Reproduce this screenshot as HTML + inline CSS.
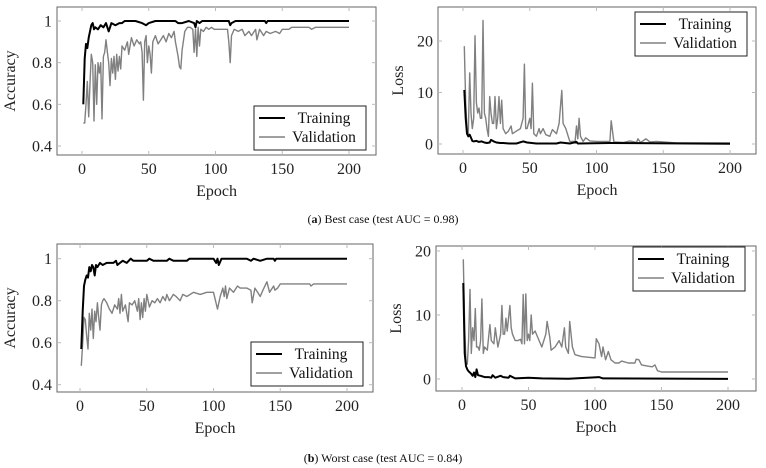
<!DOCTYPE html>
<html><head><meta charset="utf-8">
<style>
html,body{margin:0;padding:0;background:#fff;}
svg{display:block;font-family:"Liberation Serif",serif;}
</style></head>
<body>
<svg id="fig" width="766" height="468" viewBox="0 0 766 468"></svg>
<script>
// ---- data ----
const aTrainE=[1,2,3,4,5,6,7,8,9,10,12,14,16,18,20,22,25,28,30,32,35,40,45,48,50,55,60,70,72,75,80,84,85,86,88,90,100,110,111,112,115,130,137,138,139,150,200];
const aTrainV=[0.6,0.82,0.89,0.87,0.92,0.95,0.98,0.99,0.96,0.97,0.96,0.98,0.97,0.99,0.95,0.99,0.98,0.99,0.99,1,1,1,0.99,0.98,0.99,1,1,1,0.99,0.99,1,0.99,0.97,1,0.99,1,1,1,0.98,0.99,1,1,1,0.99,1,1,1];
const aValE=[1,2,3,4,5,6,7,8,9,10,11,12,13,14,15,16,17,18,19,20,21,22,23,24,25,26,27,28,29,30,32,34,35,37,39,41,43,44,45,46,47,48,49,50,51,52,53,55,57,59,61,63,65,67,69,70,72,73,74,75,77,79,81,83,84,85,86,87,88,89,91,93,95,97,99,105,109,110,111,112,114,117,120,122,125,127,130,131,133,136,138,141,145,148,150,155,157,170,172,175,200];
const aValV=[0.51,0.51,0.6,0.71,0.54,0.7,0.84,0.8,0.52,0.79,0.6,0.8,0.75,0.8,0.53,0.83,0.85,0.91,0.85,0.8,0.69,0.82,0.75,0.83,0.72,0.84,0.76,0.83,0.77,0.88,0.86,0.9,0.84,0.92,0.88,0.91,0.89,0.9,0.85,0.62,0.9,0.93,0.8,0.88,0.84,0.75,0.9,0.93,0.89,0.91,0.93,0.9,0.94,0.92,0.95,0.9,0.83,0.78,0.77,0.86,0.95,0.97,0.97,0.96,0.85,0.96,0.83,0.97,0.88,0.96,0.95,0.97,0.96,0.97,0.96,0.96,0.96,0.9,0.8,0.93,0.96,0.95,0.96,0.93,0.95,0.93,0.96,0.91,0.96,0.93,0.95,0.94,0.95,0.94,0.96,0.96,0.97,0.97,0.96,0.97,0.97];
const bTrainE=[1,2,3,4,5,6,7,8,10,12,14,16,18,20,21,23,25,28,30,35,40,45,48,55,70,73,80,85,86,110,200];
const bTrainV=[10.5,5,2,1.5,1.8,1.2,0.6,0.5,0.6,0.4,0.5,0.3,0.2,0.3,0.8,0.5,0.3,0.2,0.2,0.1,0.1,0.5,0.3,0.1,0.1,0.3,0.1,0.4,0.1,0.2,0.05];
const bValE=[1,2,3,4,5,6,7,8,9,10,11,12,13,14,15,16,17,18,19,20,21,22,23,24,25,26,27,28,29,30,32,34,36,37,40,43,45,46,47,48,50,51,52,53,55,57,58,60,62,65,67,70,72,74,75,77,80,84,85,86,87,88,90,92,95,100,110,111,113,120,125,130,131,133,137,140,145,150,160,200];
const bValV=[19,8,3,2,13.8,6,3,5,21,8,6,7,5,5,24,6,5,3,1.5,9.2,6,4,4,9.2,3,5,9.2,4,8.5,3,2,2.5,3.5,2,2.5,3,5,15.5,3,3,5,3,11.8,2,1.5,3,2,3,1.8,1.5,2.8,2,4,10.4,4,3,0.5,0.5,3.5,1,5,1.5,0.5,1.2,0.6,0.5,0.5,4.5,0.4,0.3,0.6,0.3,1,0.3,1,0.4,0.5,0.4,0.2,0.2];
const cTrainE=[1,2,3,4,5,6,7,8,9,10,11,12,13,15,17,20,25,27,28,30,32,35,38,40,50,52,55,65,67,70,80,82,85,100,102,103,104,106,110,125,128,130,135,140,145,146,147,200];
const cTrainV=[0.57,0.75,0.87,0.9,0.92,0.91,0.96,0.94,0.97,0.96,0.92,0.97,0.96,0.98,0.97,0.98,0.98,0.99,0.97,0.98,0.99,0.98,1,0.99,0.99,1,0.99,0.99,1,0.99,0.99,1,1,1,0.98,1,0.97,1,1,1,0.99,1,0.99,1,1,0.99,1,1];
const cValE=[1,2,3,4,5,6,7,8,9,10,11,12,13,14,15,16,17,18,20,22,24,26,28,29,30,31,32,34,36,37,39,41,43,44,45,46,47,48,49,50,52,54,56,58,60,62,64,65,67,70,72,75,77,80,85,90,95,100,103,105,107,108,109,110,112,115,118,120,125,128,129,131,133,135,137,140,142,145,146,148,150,172,173,175,200];
const cValV=[0.49,0.6,0.72,0.71,0.63,0.57,0.74,0.66,0.76,0.62,0.75,0.7,0.79,0.72,0.66,0.78,0.8,0.81,0.79,0.76,0.74,0.78,0.76,0.81,0.74,0.83,0.75,0.78,0.7,0.79,0.78,0.8,0.75,0.81,0.71,0.79,0.72,0.81,0.75,0.83,0.77,0.8,0.79,0.81,0.79,0.82,0.8,0.83,0.8,0.83,0.82,0.8,0.83,0.82,0.84,0.83,0.84,0.84,0.76,0.82,0.86,0.82,0.87,0.81,0.86,0.84,0.87,0.86,0.86,0.85,0.79,0.86,0.84,0.82,0.85,0.89,0.84,0.87,0.85,0.86,0.88,0.88,0.87,0.88,0.88];
const dTrainE=[1,2,3,4,5,6,7,8,9,10,11,12,14,17,20,22,23,25,29,31,35,36,40,50,60,80,103,106,200];
const dTrainV=[15,4,2,1.5,1.2,1,0.8,0.5,1,0.3,1.5,0.6,0.5,0.3,0.3,0.2,0.6,0.2,0.5,0.3,0.2,0.5,0.1,0.2,0.1,0.05,0.3,0.1,0.02];
const dValE=[1,2,3,4,5,6,7,8,9,10,11,12,13,14,15,16,17,19,21,22,24,25,27,29,30,31,32,33,34,36,37,38,40,42,44,45,46,47,48,49,50,51,52,53,55,58,60,63,64,66,67,70,73,75,77,78,80,81,83,85,90,100,101,103,105,106,108,110,112,115,118,120,125,130,131,133,135,140,143,145,147,150,200];
const dValV=[18.7,8,2.5,2.3,6,14,4,8,6,11,5,5,4.5,6,12.5,4,5,4.5,8.5,6,5.5,8,5,7,11.5,7,7,9.5,7.5,11.5,8,7,6,6,6.2,5.5,13.2,5.5,13.3,6,7,6,10,7,7.5,6,5,7,9,6.5,4.5,5,6,5,8,5,4,9,5,3.8,3.5,3.3,6.3,5.5,3.5,5,3,4.3,3,2.5,2.5,2.8,2.5,2.5,3.1,3,2.2,2,1.9,2.2,1.3,1.1,1.1];
const xTicks=[0,50,100,150,200];
const accTicks=[0.4,0.6,0.8,1];
const accTickLabels=["0.4","0.6","0.8","1"];
const lossTicks=[0,10,20];
const lossTickLabels=["0","10","20"];

const NS="http://www.w3.org/2000/svg";
const svg=document.getElementById('fig');
function mk(tag,attrs,parent){const e=document.createElementNS(NS,tag);for(const k in attrs)e.setAttribute(k,attrs[k]);(parent||svg).appendChild(e);return e;}

function panel(cfg){
  const g=mk('g',{});
  
  
  const sx=v=>cfg.x0+(v-0)*(cfg.x200-cfg.x0)/200;
  const sy=v=>cfg.yA+(v-cfg.vA)*(cfg.yB-cfg.yA)/(cfg.vB-cfg.vA);
  const box=mk('rect',{x:cfg.bx1,y:cfg.by1,width:cfg.bx2-cfg.bx1,height:cfg.by2-cfg.by1,fill:'none',stroke:'#666','stroke-width':1},g);
  
  xTicks.forEach(t=>{
    const x=sx(t);
    mk('line',{x1:x,x2:x,y1:cfg.by2,y2:cfg.by2-4,stroke:'#bbb'},g);
    mk('line',{x1:x,x2:x,y1:cfg.by1,y2:cfg.by1+4,stroke:'#bbb'},g);
    const tx=mk('text',{x:x,y:cfg.by2+19,'text-anchor':'middle','font-size':16,fill:'#222'},g);
    tx.textContent=t;
    
  });
  cfg.yt.forEach((t,i)=>{
    const y=sy(t);
    mk('line',{x1:cfg.bx1,x2:cfg.bx1+4,y1:y,y2:y,stroke:'#bbb'},g);
    mk('line',{x1:cfg.bx2,x2:cfg.bx2-4,y1:y,y2:y,stroke:'#bbb'},g);
    const tx=mk('text',{x:cfg.bx1-5,y:y+5.5,'text-anchor':'end','font-size':16,fill:'#222'},g);
    tx.textContent=cfg.ytl[i];
    
  });
  const xl=mk('text',{x:(cfg.bx1+cfg.bx2)/2,y:cfg.by2+41,'text-anchor':'middle','font-size':16,fill:'#222'},g);
  xl.textContent='Epoch';
  const yx=cfg.ylx, yy=(cfg.by1+cfg.by2)/2;
  const yl=mk('text',{x:yx,y:yy,'text-anchor':'middle','font-size':16,fill:'#222',transform:`rotate(-90 ${yx} ${yy})`},g);
  yl.textContent=cfg.ylabel;
  const path=(E,V)=>E.map((e,i)=>(i?'L':'M')+sx(e).toFixed(1)+','+sy(V[i]).toFixed(1)).join('');
  const pv=mk('path',{d:path(cfg.vE,cfg.vV),fill:'none',stroke:'#808080','stroke-width':1.4,'stroke-linejoin':'round'},g);
  
  const pt=mk('path',{d:path(cfg.tE,cfg.tV),fill:'none',stroke:'#000','stroke-width':2,'stroke-linejoin':'round'},g);
  
  const L=cfg.leg;
  const lg=mk('g',{},g);
  
  mk('rect',{x:L[0],y:L[1],width:112,height:44,fill:'#fff',stroke:'#222','stroke-width':1},lg);
  const r1=L[1]+12, r2=L[1]+31;
  const e1=mk('g',{},lg);
  mk('line',{x1:L[0]+5,x2:L[0]+31,y1:r1,y2:r1,stroke:'#000','stroke-width':2},e1);
  const t1=mk('text',{x:L[0]+70,y:r1+5,'text-anchor':'middle','font-size':15.5,fill:'#111'},e1);t1.textContent='Training';
  const e2=mk('g',{},lg);
  mk('line',{x1:L[0]+5,x2:L[0]+31,y1:r2,y2:r2,stroke:'#808080','stroke-width':1.4},e2);
  const t2=mk('text',{x:L[0]+70,y:r2+5,'text-anchor':'middle','font-size':15.5,fill:'#111'},e2);t2.textContent='Validation';
}

panel({name:'best-accuracy-chart',bx1:57,bx2:376,by1:7,by2:155,x0:82,x200:349,vA:1,yA:21,vB:0.4,yB:146,yt:accTicks,ytl:accTickLabels,ylabel:'Accuracy',ylx:15,tE:aTrainE,tV:aTrainV,vE:aValE,vV:aValV,leg:[254,106]});
panel({name:'best-loss-chart',bx1:438,bx2:756,by1:7,by2:154,x0:463,x200:730,vA:0,yA:144,vB:20,yB:41,yt:lossTicks,ytl:lossTickLabels,ylabel:'Loss',ylx:403,tE:bTrainE,tV:bTrainV,vE:bValE,vV:bValV,leg:[635,12]});
panel({name:'worst-accuracy-chart',bx1:57,bx2:373,by1:244,by2:392,x0:80,x200:347,vA:1,yA:258.7,vB:0.4,yB:384.7,yt:accTicks,ytl:accTickLabels,ylabel:'Accuracy',ylx:15,tE:cTrainE,tV:cTrainV,vE:cValE,vV:cValV,leg:[251,342]});
panel({name:'worst-loss-chart',bx1:436,bx2:756,by1:246,by2:391,x0:462,x200:728,vA:0,yA:379,vB:20,yB:251,yt:lossTicks,ytl:lossTickLabels,ylabel:'Loss',ylx:401,tE:dTrainE,tV:dTrainV,vE:dValE,vV:dValV,leg:[633,247]});

function caption(y,letter,rest,name){
  const t=mk('text',{x:383,y:y,'text-anchor':'middle','font-size':12,fill:'#111'});
  
  t.innerHTML='(<tspan font-weight="bold">'+letter+'</tspan>) '+rest;
}
caption(223,'a','Best case (test AUC = 0.98)','caption-a');
caption(462,'b','Worst case (test AUC = 0.84)','caption-b');
</script>
</body></html>
